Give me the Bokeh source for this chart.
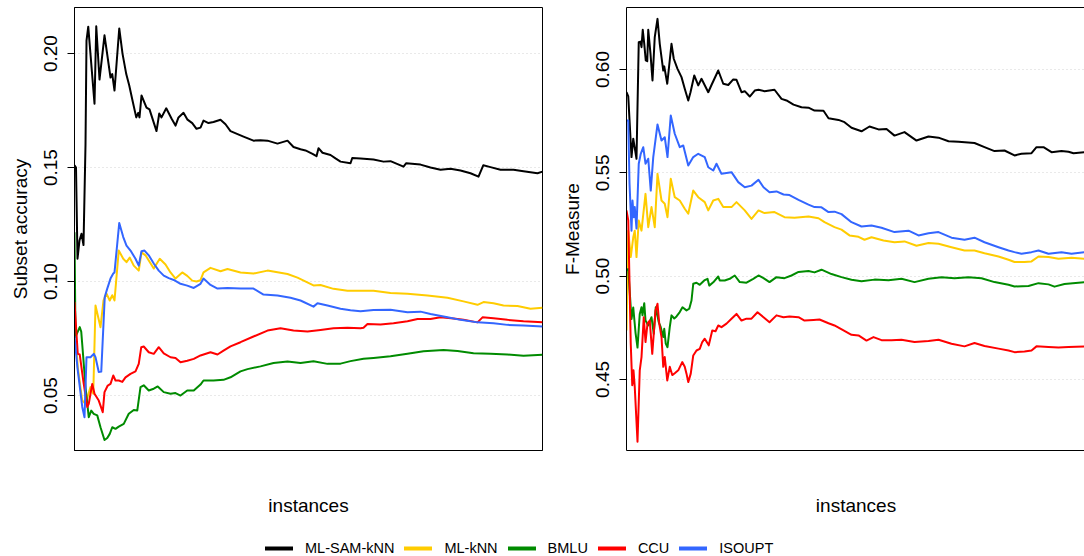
from bokeh.plotting import figure
from bokeh.models import Range1d, FixedTicker, PrintfTickFormatter, LinearAxis, Legend, LegendItem
from bokeh.layouts import column, row
from bokeh.embed import file_html
from bokeh.resources import INLINE

methods = ["ML-SAM-kNN", "ML-kNN", "BMLU", "CCU", "ISOUPT"]
colors = ["#000000", "#FFCC00", "#008B00", "#FF0000", "#3366FF"]

# ---------------- Subset accuracy (left panel) ----------------
sa_samknn_x = [0, 6, 12, 20, 28, 36, 44, 48, 55, 80, 87, 100, 120, 144, 151, 160, 179, 192, 207, 219, 232, 247, 255, 260, 268, 288, 300, 328, 339, 348, 367, 388, 404, 416, 436, 452, 471, 488, 504, 516, 536, 556, 584, 604, 624, 676, 716, 744, 772, 812, 852, 876, 904, 924, 952, 968, 976, 992, 1024, 1044, 1064, 1104, 1111, 1144, 1196, 1236, 1264, 1316, 1327, 1384, 1424, 1464, 1504, 1544, 1584, 1616, 1635, 1664, 1704, 1756, 1796, 1852, 1872]
sa_samknn_y = [0.151, 0.150, 0.110, 0.118, 0.121, 0.116, 0.160, 0.2057, 0.2118, 0.178, 0.212, 0.1886, 0.208, 0.1895, 0.191, 0.1838, 0.211, 0.200, 0.191, 0.186, 0.1794, 0.172, 0.174, 0.172, 0.1816, 0.1763, 0.1755, 0.166, 0.1737, 0.172, 0.176, 0.1715, 0.1684, 0.172, 0.174, 0.171, 0.1695, 0.167, 0.1675, 0.1706, 0.1695, 0.170, 0.171, 0.169, 0.166, 0.1636, 0.1618, 0.162, 0.1618, 0.1605, 0.1618, 0.159, 0.158, 0.1575, 0.156, 0.155, 0.1585, 0.1565, 0.1555, 0.154, 0.1526, 0.1519, 0.1542, 0.154, 0.1535, 0.1526, 0.1528, 0.1504, 0.1519, 0.1513, 0.150, 0.149, 0.1495, 0.1487, 0.1475, 0.146, 0.151, 0.1502, 0.149, 0.149, 0.1484, 0.1475, 0.1482]

sa_mlknn_x = [0, 13, 31, 44, 64, 75, 84, 104, 116, 128, 141, 151, 160, 177, 195, 208, 221, 237, 257, 268, 284, 317, 341, 364, 384, 404, 431, 451, 471, 488, 504, 516, 544, 584, 612, 664, 716, 772, 852, 892, 956, 984, 1036, 1092, 1144, 1196, 1264, 1332, 1412, 1492, 1556, 1612, 1636, 1676, 1716, 1772, 1824, 1872]
sa_mlknn_y = [0.083, 0.0625, 0.0478, 0.0464, 0.0537, 0.0508, 0.0895, 0.080, 0.0917, 0.0947, 0.0917, 0.094, 0.0917, 0.1136, 0.110, 0.1085, 0.1105, 0.107, 0.1048, 0.1128, 0.1115, 0.1057, 0.110, 0.1075, 0.104, 0.1013, 0.104, 0.1025, 0.1004, 0.100, 0.1006, 0.104, 0.106, 0.1045, 0.1055, 0.104, 0.1035, 0.1048, 0.1033, 0.1017, 0.0983, 0.0985, 0.0968, 0.096, 0.096, 0.096, 0.095, 0.0946, 0.0939, 0.0929, 0.0913, 0.0898, 0.091, 0.0905, 0.0895, 0.0893, 0.0881, 0.0885]

sa_bmlu_x = [0, 4, 21, 27, 35, 44, 57, 67, 77, 91, 104, 120, 131, 141, 151, 164, 177, 197, 217, 237, 251, 264, 277, 297, 317, 333, 357, 384, 404, 424, 451, 477, 504, 516, 556, 596, 624, 664, 692, 744, 796, 852, 904, 956, 1012, 1064, 1104, 1156, 1196, 1264, 1332, 1396, 1476, 1532, 1596, 1664, 1732, 1796, 1872]
sa_bmlu_y = [0.1216, 0.0757, 0.080, 0.078, 0.0668, 0.0537, 0.0405, 0.0434, 0.042, 0.0413, 0.0361, 0.0305, 0.0314, 0.0332, 0.0361, 0.0354, 0.0364, 0.0376, 0.042, 0.0437, 0.0434, 0.0537, 0.0545, 0.0522, 0.0530, 0.054, 0.0515, 0.0508, 0.0511, 0.050, 0.0522, 0.0522, 0.0548, 0.0566, 0.0566, 0.0569, 0.058, 0.0606, 0.0616, 0.0628, 0.0643, 0.0649, 0.0643, 0.065, 0.0639, 0.064, 0.0651, 0.0661, 0.0665, 0.0672, 0.0683, 0.0694, 0.070, 0.0695, 0.0686, 0.0683, 0.068, 0.0675, 0.0679]

sa_ccu_x = [0, 13, 21, 35, 51, 57, 71, 80, 97, 113, 120, 133, 144, 155, 164, 177, 191, 204, 224, 244, 257, 267, 277, 297, 317, 337, 357, 384, 404, 424, 451, 477, 504, 544, 572, 596, 624, 664, 716, 772, 824, 876, 932, 984, 1036, 1092, 1144, 1156, 1172, 1224, 1276, 1332, 1372, 1424, 1464, 1516, 1556, 1612, 1632, 1676, 1732, 1796, 1872]
sa_ccu_y = [0.091, 0.0683, 0.0680, 0.0566, 0.045, 0.0464, 0.0551, 0.0508, 0.0478, 0.0427, 0.0515, 0.0544, 0.0551, 0.0588, 0.0566, 0.0566, 0.056, 0.058, 0.0595, 0.0606, 0.0639, 0.0712, 0.0715, 0.069, 0.0683, 0.0712, 0.0685, 0.0668, 0.0665, 0.0646, 0.0653, 0.0661, 0.0676, 0.069, 0.068, 0.0697, 0.0716, 0.0734, 0.0759, 0.0785, 0.0795, 0.0785, 0.0781, 0.0788, 0.0795, 0.0797, 0.0795, 0.0797, 0.0814, 0.0812, 0.0817, 0.0826, 0.0836, 0.0836, 0.0843, 0.0838, 0.0832, 0.0821, 0.0843, 0.0839, 0.0832, 0.0826, 0.0821]

sa_isoupt_x = [0, 12, 31, 40, 48, 64, 77, 84, 97, 107, 121, 131, 144, 155, 160, 179, 195, 208, 224, 244, 257, 268, 280, 297, 317, 337, 357, 377, 397, 424, 451, 477, 504, 516, 544, 572, 612, 664, 716, 756, 812, 864, 904, 956, 972, 1012, 1064, 1104, 1144, 1196, 1264, 1332, 1384, 1424, 1492, 1544, 1612, 1676, 1732, 1796, 1872]
sa_isoupt_y = [0.076, 0.062, 0.045, 0.0405, 0.0668, 0.0668, 0.0683, 0.0668, 0.0603, 0.0605, 0.0932, 0.0969, 0.1013, 0.1035, 0.104, 0.1257, 0.1195, 0.1158, 0.1136, 0.110, 0.107, 0.1133, 0.1136, 0.1115, 0.1079, 0.1048, 0.1026, 0.1015, 0.1007, 0.099, 0.0982, 0.0972, 0.099, 0.1013, 0.0985, 0.0969, 0.0972, 0.097, 0.0969, 0.0943, 0.0939, 0.0929, 0.0917, 0.089, 0.0905, 0.0895, 0.0881, 0.0874, 0.087, 0.0875, 0.0876, 0.0865, 0.0868, 0.0858, 0.0843, 0.0832, 0.0821, 0.0817, 0.081, 0.0807, 0.0803]

# ---------------- F-Measure (right panel) ----------------
fm_samknn_x = [0, 7, 20, 27, 40, 49, 56, 60, 65, 71, 77, 83, 87, 96, 104, 113, 124, 133, 147, 151, 163, 180, 189, 204, 220, 233, 247, 256, 271, 287, 300, 327, 340, 367, 387, 407, 427, 440, 460, 473, 493, 513, 528, 552, 592, 620, 640, 668, 700, 728, 752, 788, 808, 848, 872, 900, 940, 972, 1008, 1040, 1072, 1112, 1160, 1208, 1248, 1288, 1328, 1392, 1432, 1472, 1512, 1552, 1580, 1620, 1640, 1668, 1700, 1740, 1768, 1788, 1832]
fm_samknn_y = [0.589, 0.587, 0.5576, 0.5665, 0.5568, 0.6132, 0.6135, 0.6108, 0.6192, 0.6124, 0.6044, 0.6040, 0.6192, 0.6076, 0.5947, 0.6157, 0.6245, 0.6124, 0.5995, 0.6015, 0.5931, 0.6124, 0.6052, 0.6003, 0.5963, 0.5907, 0.585, 0.589, 0.5971, 0.5923, 0.5955, 0.589, 0.5925, 0.5995, 0.5931, 0.5925, 0.5952, 0.595, 0.589, 0.5895, 0.5869, 0.5898, 0.5902, 0.5895, 0.5902, 0.5858, 0.585, 0.583, 0.5817, 0.5815, 0.5801, 0.5800, 0.5764, 0.5756, 0.5745, 0.5718, 0.5701, 0.5724, 0.5710, 0.5712, 0.568, 0.5697, 0.5656, 0.5676, 0.5670, 0.5653, 0.5650, 0.5644, 0.5624, 0.5605, 0.5608, 0.5584, 0.5592, 0.5595, 0.5624, 0.5624, 0.560, 0.5605, 0.5602, 0.5595, 0.560]

fm_mlknn_x = [0, 7, 17, 27, 33, 40, 49, 60, 76, 87, 100, 113, 124, 140, 153, 164, 177, 193, 213, 233, 247, 267, 287, 313, 327, 347, 367, 387, 420, 440, 473, 500, 528, 552, 592, 632, 672, 728, 768, 792, 832, 860, 892, 928, 952, 980, 1028, 1072, 1112, 1160, 1208, 1248, 1300, 1352, 1392, 1432, 1488, 1528, 1552, 1592, 1620, 1648, 1688, 1728, 1780, 1832]
fm_mlknn_y = [0.4737, 0.522, 0.5092, 0.5188, 0.522, 0.5092, 0.5269, 0.522, 0.5398, 0.5237, 0.5334, 0.5237, 0.5495, 0.5366, 0.5350, 0.5285, 0.5471, 0.5382, 0.5366, 0.5326, 0.5302, 0.5414, 0.5382, 0.5358, 0.5318, 0.5366, 0.5374, 0.5334, 0.5334, 0.5358, 0.5318, 0.5277, 0.5318, 0.5305, 0.531, 0.5285, 0.5282, 0.5289, 0.5280, 0.5261, 0.5237, 0.5225, 0.5197, 0.5190, 0.5176, 0.5188, 0.5172, 0.5164, 0.5168, 0.5147, 0.516, 0.5157, 0.514, 0.5124, 0.5124, 0.5111, 0.5095, 0.5079, 0.5068, 0.5068, 0.5071, 0.5095, 0.5092, 0.5084, 0.5089, 0.5084]

fm_bmlu_x = [0, 7, 20, 27, 36, 44, 53, 60, 64, 71, 76, 87, 100, 109, 117, 129, 137, 147, 151, 157, 164, 173, 180, 191, 200, 213, 224, 240, 251, 260, 267, 280, 293, 311, 324, 331, 347, 367, 373, 393, 413, 433, 453, 480, 507, 528, 548, 572, 600, 632, 660, 688, 728, 752, 780, 820, 860, 900, 940, 992, 1048, 1100, 1152, 1208, 1260, 1312, 1368, 1420, 1472, 1528, 1552, 1608, 1648, 1688, 1712, 1752, 1832]
fm_bmlu_y = [0.503, 0.5034, 0.4792, 0.4848, 0.4727, 0.4654, 0.4817, 0.4849, 0.481, 0.4869, 0.4785, 0.4761, 0.4801, 0.4721, 0.4849, 0.4777, 0.4753, 0.4705, 0.4745, 0.4673, 0.4656, 0.4753, 0.481, 0.4795, 0.4805, 0.4826, 0.4849, 0.4834, 0.4842, 0.4882, 0.4963, 0.4968, 0.4958, 0.4979, 0.4987, 0.4954, 0.4970, 0.4998, 0.4979, 0.4979, 0.4987, 0.5003, 0.4971, 0.4968, 0.4987, 0.5003, 0.4990, 0.4971, 0.4995, 0.4990, 0.5003, 0.502, 0.5025, 0.5018, 0.5031, 0.5010, 0.4995, 0.4982, 0.4975, 0.4983, 0.4980, 0.4987, 0.4971, 0.4987, 0.4994, 0.4990, 0.4995, 0.4990, 0.4971, 0.4958, 0.4950, 0.4952, 0.4966, 0.4960, 0.4949, 0.4962, 0.4971]

fm_ccu_x = [0, 7, 17, 23, 28, 33, 44, 53, 60, 69, 76, 84, 93, 103, 111, 116, 124, 131, 140, 147, 153, 163, 173, 183, 193, 207, 223, 233, 240, 247, 257, 267, 280, 293, 303, 313, 329, 343, 356, 367, 380, 400, 420, 440, 460, 480, 500, 524, 548, 572, 600, 628, 652, 688, 712, 748, 772, 808, 832, 868, 900, 928, 960, 988, 1020, 1060, 1100, 1152, 1208, 1248, 1300, 1352, 1392, 1432, 1488, 1528, 1552, 1592, 1620, 1640, 1688, 1728, 1768, 1832]
fm_ccu_y = [0.5318, 0.527, 0.4673, 0.4472, 0.4544, 0.4463, 0.4198, 0.4544, 0.4608, 0.4801, 0.4681, 0.477, 0.4785, 0.4624, 0.4753, 0.4833, 0.4866, 0.477, 0.4705, 0.4561, 0.4608, 0.4495, 0.4561, 0.4521, 0.4530, 0.4544, 0.4584, 0.4561, 0.4528, 0.4487, 0.4528, 0.4616, 0.464, 0.4648, 0.4681, 0.4697, 0.4665, 0.4737, 0.4733, 0.4761, 0.4753, 0.477, 0.4794, 0.4817, 0.4785, 0.4794, 0.4794, 0.4825, 0.4801, 0.4777, 0.481, 0.4801, 0.4805, 0.4801, 0.4785, 0.4788, 0.4790, 0.4772, 0.4761, 0.4737, 0.4716, 0.4713, 0.4688, 0.4705, 0.4690, 0.4689, 0.4692, 0.4681, 0.4686, 0.4692, 0.4673, 0.466, 0.4676, 0.4662, 0.4649, 0.464, 0.4632, 0.4635, 0.464, 0.466, 0.4657, 0.4655, 0.4657, 0.466]

fm_isoupt_x = [0, 7, 12, 20, 24, 29, 33, 40, 49, 57, 67, 76, 87, 97, 107, 124, 140, 153, 164, 177, 193, 213, 227, 247, 267, 287, 313, 327, 347, 360, 380, 420, 447, 473, 500, 528, 548, 572, 600, 628, 652, 688, 728, 752, 780, 808, 832, 860, 900, 940, 980, 1020, 1072, 1128, 1168, 1208, 1248, 1300, 1352, 1392, 1432, 1488, 1528, 1552, 1580, 1620, 1648, 1688, 1740, 1780, 1832]
fm_isoupt_y = [0.5753, 0.5753, 0.545, 0.522, 0.5366, 0.5285, 0.5334, 0.523, 0.5544, 0.5592, 0.5624, 0.5544, 0.5568, 0.5414, 0.5576, 0.5734, 0.5656, 0.5672, 0.5576, 0.5777, 0.5689, 0.5624, 0.5632, 0.5535, 0.5576, 0.5592, 0.5576, 0.5527, 0.5511, 0.5544, 0.5495, 0.5503, 0.5455, 0.543, 0.5438, 0.5466, 0.543, 0.5406, 0.5410, 0.5395, 0.5392, 0.5369, 0.5346, 0.5334, 0.5333, 0.531, 0.5312, 0.530, 0.5261, 0.524, 0.5245, 0.5234, 0.5213, 0.5220, 0.5197, 0.5207, 0.5213, 0.5186, 0.5176, 0.5186, 0.5164, 0.514, 0.5124, 0.5116, 0.5108, 0.5116, 0.5124, 0.5108, 0.5116, 0.5108, 0.5116]

sa_ticks = [0.05, 0.10, 0.15, 0.20]
fm_ticks = [0.45, 0.50, 0.55, 0.60]

FONT = "Liberation Sans"


def make_panel(xmax, ylo, yhi, ticks, ylabel, min_left, frame_w, min_right, outline):
    p = figure(frame_width=frame_w, frame_height=443,
               x_range=Range1d(0, xmax), y_range=Range1d(ylo, yhi),
               output_backend="svg", toolbar_location=None,
               min_border_left=min_left, min_border_right=min_right,
               min_border_top=7, min_border_bottom=80)
    p.background_fill_color = "white"
    p.border_fill_color = "white"
    # x axis (below): no ticks, only the title
    xa = p.below[0]
    xa.ticker = FixedTicker(ticks=[])
    xa.major_tick_out = 0
    xa.major_tick_in = 0
    xa.minor_tick_out = 0
    xa.minor_tick_in = 0
    xa.major_label_standoff = 0
    xa.axis_line_color = "black"
    xa.axis_label = "instances"
    xa.axis_label_text_font = FONT
    xa.axis_label_text_font_size = "19px"
    xa.axis_label_text_font_style = "normal"
    xa.axis_label_text_color = "black"
    xa.axis_label_standoff = 44
    # y axis
    ya = p.left[0]
    ya.ticker = FixedTicker(ticks=ticks)
    ya.formatter = PrintfTickFormatter(format="%.2f")
    ya.major_tick_out = 7
    ya.major_tick_in = 0
    ya.minor_tick_out = 0
    ya.minor_tick_in = 0
    ya.major_tick_line_color = "black"
    ya.axis_line_color = "black"
    ya.major_label_orientation = "vertical"
    ya.major_label_text_font = FONT
    ya.major_label_text_font_size = "19px"
    ya.major_label_text_color = "black"
    ya.major_label_standoff = 10
    ya.axis_label = ylabel
    ya.axis_label_text_font = FONT
    ya.axis_label_text_font_size = "19px"
    ya.axis_label_text_font_style = "normal"
    ya.axis_label_text_color = "black"
    ya.axis_label_standoff = 11
    if outline:
        p.outline_line_color = "black"
        p.outline_line_width = 1
    else:
        p.outline_line_color = None
        top = LinearAxis(ticker=FixedTicker(ticks=[]), major_tick_out=0, major_tick_in=0,
                         minor_tick_out=0, minor_tick_in=0, major_label_text_font_size="0px",
                         major_label_standoff=0, axis_line_color="black")
        p.add_layout(top, "above")
    p.xgrid.visible = False
    p.ygrid.grid_line_color = "#d3d3d3"
    p.ygrid.grid_line_dash = "1 3"
    p.ygrid.grid_line_width = 1
    return p


p1 = make_panel(1872, 0.0259, 0.2202, sa_ticks, "Subset accuracy", 74, 468, 16, True)
p2 = make_panel(1836, 0.4156, 0.6300, fm_ticks, "F-Measure", 67, 459, 0, False)

sa_series = [(sa_samknn_x, sa_samknn_y), (sa_mlknn_x, sa_mlknn_y), (sa_bmlu_x, sa_bmlu_y),
             (sa_ccu_x, sa_ccu_y), (sa_isoupt_x, sa_isoupt_y)]
fm_series = [(fm_samknn_x, fm_samknn_y), (fm_mlknn_x, fm_mlknn_y), (fm_bmlu_x, fm_bmlu_y),
             (fm_ccu_x, fm_ccu_y), (fm_isoupt_x, fm_isoupt_y)]

for (xs, ys), c in zip(sa_series, colors):
    p1.line(xs, ys, line_color=c, line_width=2, line_join="round")
for (xs, ys), c in zip(fm_series, colors):
    p2.line(xs, ys, line_color=c, line_width=2, line_join="round")

# legend strip: the series are drawn here off-view, only their legend samples show
leg = figure(width=1084, height=26, x_range=Range1d(-4000, -3000), y_range=Range1d(0, 1),
             output_backend="svg", toolbar_location=None, min_border=0,
             x_axis_location=None, y_axis_location=None)
leg.outline_line_color = None
leg.grid.visible = False
items = []
for name, c, (xs, ys) in zip(methods, colors, sa_series):
    r = leg.line(xs, ys, line_color=c, line_width=4, line_cap="round")
    items.append(LegendItem(label=name, renderers=[r]))
legend = Legend(items=items, orientation="horizontal", location=(265, 0),
                glyph_width=28, glyph_height=14, label_height=14, label_standoff=12,
                spacing=10, padding=0, margin=0, border_line_color=None,
                background_fill_alpha=0, label_text_font=FONT,
                label_text_font_size="14.5px", label_text_color="black")
leg.add_layout(legend, "center")

layout = column(row(p1, p2), leg)
open("out.html", "w").write(file_html(layout, INLINE))
